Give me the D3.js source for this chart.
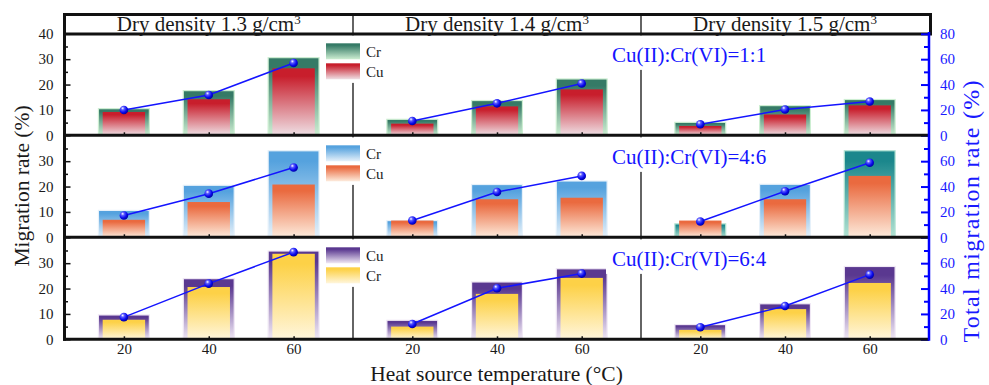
<!DOCTYPE html>
<html>
<head>
<meta charset="utf-8">
<script src="https://cdn.jsdelivr.net/npm/d3@7"></script>
<style>
  html, body { margin: 0; padding: 0; background: #fff; }
  svg { display: block; font-family: "Liberation Serif", "Times New Roman", serif; }
</style>
</head>
<body>
<svg id="chart" width="989" height="385"></svg>
<script>
// ---- data -------------------------------------------------------------
const temperatures = [20, 40, 60];
const densityLabels = ["1.3", "1.4", "1.5"];
const ratioLabels = ["Cu(II):Cr(VI)=1:1", "Cu(II):Cr(VI)=4:6", "Cu(II):Cr(VI)=6:4"];
const legendNames = [["Cr", "Cu"], ["Cr", "Cu"], ["Cu", "Cr"]];

// migration rates (%), indexed [dry density][temperature]
// ratio 1:1 — wide bar Cr, narrow bar Cu
const cr11 = [[10.5, 17.6, 30.6], [6.3, 13.7, 22.2], [5.1, 11.7, 14.1]];
const cu11 = [[9.2, 14.2, 26.4], [4.6, 11.4, 18.1], [3.7, 8.2, 11.8]];
const total11 = [[20.0, 31.8, 57.0], [11.3, 25.2, 40.8], [8.7, 20.3, 26.6]];

// ratio 4:6 — wide bar Cr, narrow bar Cu
const cr46 = [[10.6, 20.5, 34.1], [6.6, 20.8, 22.2], [5.3, 20.9, 34.1]];
const cu46 = [[6.9, 13.9, 20.8], [6.6, 15.0, 15.6], [6.6, 15.0, 24.2]];
const total46 = [[17.2, 34.4, 55.0], [13.2, 35.7, 48.4], [12.5, 36.3, 58.7]];

// ratio 6:4 — wide bar Cu, narrow bar Cr
const cu64 = [[9.6, 23.9, 34.8], [7.5, 22.6, 27.8], [5.8, 14.0, 28.7]];
const cr64 = [[7.7, 20.6, 33.7], [5.0, 17.9, 24.2], [3.7, 11.9, 22.2]];
const total64 = [[17.5, 43.9, 68.7], [12.1, 40.2, 51.8], [9.5, 26.2, 51.0]];

const leftTicks = [0, 10, 20, 30, 40];
const leftMinor = [5, 15, 25, 35];
const rightTicks = [0, 20, 40, 60, 80];
const rightMinor = [10, 30, 50, 70];

// ---- styles -----------------------------------------------------------
const palettes = {
  green:  ["#357a66", "#cdeed2"],
  red:    ["#c81e2c", "#efe0e5"],
  blue:   ["#55a2de", "#e6f1fa"],
  orange: ["#ea6a3f", "#fdebdc"],
  teal:   ["#1b878c", "#b3e3d3"],
  purple: ["#5a3890", "#f0e8f5"],
  yellow: ["#fdd147", "#fff6dc"]
};
const rowsSpec = [
  { back: cr11, front: cu11, total: total11,
    backColor: [["green","green","green"],["green","green","green"],["green","green","green"]],
    frontColor: "red", legend: ["green", "red"] },
  { back: cr46, front: cu46, total: total46,
    backColor: [["blue","blue","blue"],["blue","blue","blue"],["teal","blue","teal"]],
    frontColor: "orange", legend: ["blue", "orange"] },
  { back: cu64, front: cr64, total: total64,
    backColor: [["purple","purple","purple"],["purple","purple","purple"],["purple","purple","purple"]],
    frontColor: "yellow", legend: ["purple", "yellow"] }
];
const lineBlue = "#1414ff";

// ---- layout -----------------------------------------------------------
const L = 64.5, R = 929;
const headerTop = 14.5, headerBottom = 34;
const rowBottoms = [135.3, 237.3, 339.3];
const rowH = 101.5;
const colEdges = [L, 353, 641, R];

const svg = d3.select("#chart");
const defs = svg.append("defs");

Object.entries(palettes).forEach(([name, [c0, c1]]) => {
  const g = defs.append("linearGradient").attr("id", "grad-" + name)
    .attr("x1", 0).attr("y1", 0).attr("x2", 0).attr("y2", 1);
  g.append("stop").attr("offset", "0%").attr("stop-color", c0);
  g.append("stop").attr("offset", "12%").attr("stop-color", c0);
  g.append("stop").attr("offset", "100%").attr("stop-color", c1);
});
const ball = defs.append("radialGradient").attr("id", "ball")
  .attr("cx", "38%").attr("cy", "35%").attr("r", "65%").attr("fx", "35%").attr("fy", "30%");
ball.append("stop").attr("offset", "0%").attr("stop-color", "#ffffff");
ball.append("stop").attr("offset", "30%").attr("stop-color", "#5a5aff");
ball.append("stop").attr("offset", "70%").attr("stop-color", "#0a0aee");
ball.append("stop").attr("offset", "100%").attr("stop-color", "#0000a8");

const xScales = [0, 1, 2].map(c => d3.scaleLinear().domain([6, 74]).range([colEdges[c], colEdges[c + 1]]));
const yScales = rowBottoms.map(b => d3.scaleLinear().domain([0, 40]).range([b, b - rowH]));
const y2Scales = rowBottoms.map(b => d3.scaleLinear().domain([0, 80]).range([b, b - rowH]));

// column dividers
svg.append("g").selectAll("line").data([colEdges[1], colEdges[2]]).join("line")
  .attr("x1", d => d).attr("x2", d => d)
  .attr("y1", headerTop).attr("y2", rowBottoms[2])
  .attr("stroke", "#111").attr("stroke-width", 1.3);

// bars, legends, annotations, lines
rowsSpec.forEach((spec, r) => {
  const y = yScales[r], y2 = y2Scales[r];
  const gRow = svg.append("g");
  for (let c = 0; c < 3; c++) {
    const x = xScales[c];
    const cells = temperatures.map((t, i) => ({
      t, back: spec.back[c][i], front: spec.front[c][i], total: spec.total[c][i],
      backColor: spec.backColor[c][i]
    }));
    gRow.append("g").selectAll("rect").data(cells).join("rect")
      .attr("x", d => x(d.t - 6)).attr("width", d => x(d.t + 6) - x(d.t - 6))
      .attr("y", d => y(d.back)).attr("height", d => y(0) - y(d.back))
      .attr("fill", d => `url(#grad-${d.backColor})`)
      .attr("stroke", d => palettes[d.backColor][1]).attr("stroke-width", 1.2);
    gRow.append("g").selectAll("rect").data(cells).join("rect")
      .attr("x", d => x(d.t - 5)).attr("width", d => x(d.t + 5) - x(d.t - 5))
      .attr("y", d => y(d.front)).attr("height", d => y(0) - y(d.front))
      .attr("fill", `url(#grad-${spec.frontColor})`);
    gRow.append("path").datum(cells)
      .attr("fill", "none").attr("stroke", lineBlue).attr("stroke-width", 1.5)
      .attr("d", d3.line().x(d => x(d.t)).y(d => y2(d.total)));
    gRow.append("g").selectAll("circle").data(cells).join("circle")
      .attr("cx", d => x(d.t)).attr("cy", d => y2(d.total)).attr("r", 4.3)
      .attr("fill", "url(#ball)");
  }

  const rowTop = rowBottoms[r] - rowH;
  // legend
  const lg = svg.append("g");
  lg.append("rect").attr("x", 322).attr("y", rowTop + 1.6).attr("width", 68).attr("height", 47.5)
    .attr("fill", "#fff");
  legendNames[r].forEach((name, k) => {
    lg.append("rect").attr("x", 326).attr("y", rowTop + 9.5 + k * 20).attr("width", 34).attr("height", 16)
      .attr("fill", `url(#grad-${spec.legend[k]})`);
    lg.append("text").attr("x", 366).attr("y", rowTop + 23 + k * 20)
      .attr("font-size", 15).attr("fill", "#1a1a1a").text(name);
  });
  // ratio annotation
  const an = svg.append("g");
  an.append("rect").attr("x", 606).attr("y", rowTop + 1.6).attr("width", 166).attr("height", 34.5)
    .attr("fill", "#fff");
  an.append("text").attr("x", 612).attr("y", rowTop + 28)
    .attr("font-size", 21).attr("fill", lineBlue).text(ratioLabels[r]);
});

// header band
svg.append("rect").attr("x", L).attr("y", headerTop).attr("width", 930.5 - L).attr("height", headerBottom - headerTop)
  .attr("fill", "none").attr("stroke", "#111").attr("stroke-width", 3);
densityLabels.forEach((d, c) => {
  const t = svg.append("text")
    .attr("x", (colEdges[c] + colEdges[c + 1]) / 2).attr("y", 30.5)
    .attr("text-anchor", "middle").attr("font-size", 21).attr("fill", "#1a1a1a");
  t.append("tspan").text(`Dry density ${d} g/cm`);
  t.append("tspan").attr("font-size", 13).attr("dy", -7).text("3");
});

// axes per row
rowsSpec.forEach((spec, r) => {
  const y = yScales[r], y2 = y2Scales[r];
  const lab = r === 0 ? leftTicks : leftTicks.slice(0, 4);
  const labR = r === 0 ? rightTicks : rightTicks.slice(0, 4);

  const gl = svg.append("g").attr("transform", `translate(${L},0)`)
    .call(d3.axisLeft(y).tickValues(lab).tickSize(-6).tickPadding(11));
  const glm = svg.append("g").attr("transform", `translate(${L},0)`)
    .call(d3.axisLeft(y).tickValues(leftMinor).tickSize(-3.5).tickFormat(""));
  [gl, glm].forEach(g => {
    g.select(".domain").remove();
    g.selectAll("line").attr("stroke", "#111").attr("stroke-width", 1.5);
    g.selectAll("text").attr("font-size", 15).attr("fill", "#1a1a1a").attr("font-family", "Liberation Serif, serif");
  });

  const gr = svg.append("g").attr("transform", `translate(${R},0)`)
    .call(d3.axisRight(y2).tickValues(labR).tickSize(-8).tickPadding(11));
  const grm = svg.append("g").attr("transform", `translate(${R},0)`)
    .call(d3.axisRight(y2).tickValues(rightMinor).tickSize(-5).tickFormat(""));
  [gr, grm].forEach(g => {
    g.select(".domain").remove();
    g.selectAll("line").attr("stroke", "#0000ff").attr("stroke-width", 2);
    g.selectAll("text").attr("font-size", 15).attr("fill", "#1a1aff").attr("font-family", "Liberation Serif, serif");
  });

  for (let c = 0; c < 3; c++) {
    const ax = d3.axisBottom(xScales[c]).tickValues(temperatures).tickSize(-3).tickPadding(4);
    if (r < 2) ax.tickFormat("");
    const gx = svg.append("g").attr("transform", `translate(0,${rowBottoms[r]})`).call(ax);
    gx.select(".domain").remove();
    gx.selectAll("line").attr("stroke", "#111").attr("stroke-width", 1.5);
    gx.selectAll("text").attr("font-size", 15).attr("fill", "#1a1a1a").attr("font-family", "Liberation Serif, serif");
  }
});

// frame: row separators, bottom and left axis lines, right axis line
svg.append("g").selectAll("line").data(rowBottoms).join("line")
  .attr("x1", L - 1.5).attr("x2", R).attr("y1", d => d).attr("y2", d => d)
  .attr("stroke", "#111").attr("stroke-width", 3);
svg.append("line").attr("x1", L).attr("x2", L).attr("y1", headerTop).attr("y2", rowBottoms[2] + 1.5)
  .attr("stroke", "#111").attr("stroke-width", 3);
svg.append("line").attr("x1", R).attr("x2", R).attr("y1", headerBottom - 2).attr("y2", rowBottoms[2] + 1.5)
  .attr("stroke", "#0000ff").attr("stroke-width", 2.5);

// axis titles
svg.append("text").attr("transform", "translate(29,186) rotate(-90)")
  .attr("text-anchor", "middle").attr("font-size", 21.5).attr("fill", "#1a1a1a")
  .text("Migration rate (%)");
svg.append("text").attr("transform", "translate(979,211.5) rotate(-90)")
  .attr("text-anchor", "middle").attr("font-size", 24).attr("fill", "#1a1aff")
  .attr("textLength", 262).attr("lengthAdjust", "spacing")
  .text("Total migration rate (%)");
svg.append("text").attr("x", 496.5).attr("y", 380.5)
  .attr("text-anchor", "middle").attr("font-size", 21.5).attr("fill", "#1a1a1a")
  .text("Heat source temperature (°C)");
</script>
</body>
</html>
